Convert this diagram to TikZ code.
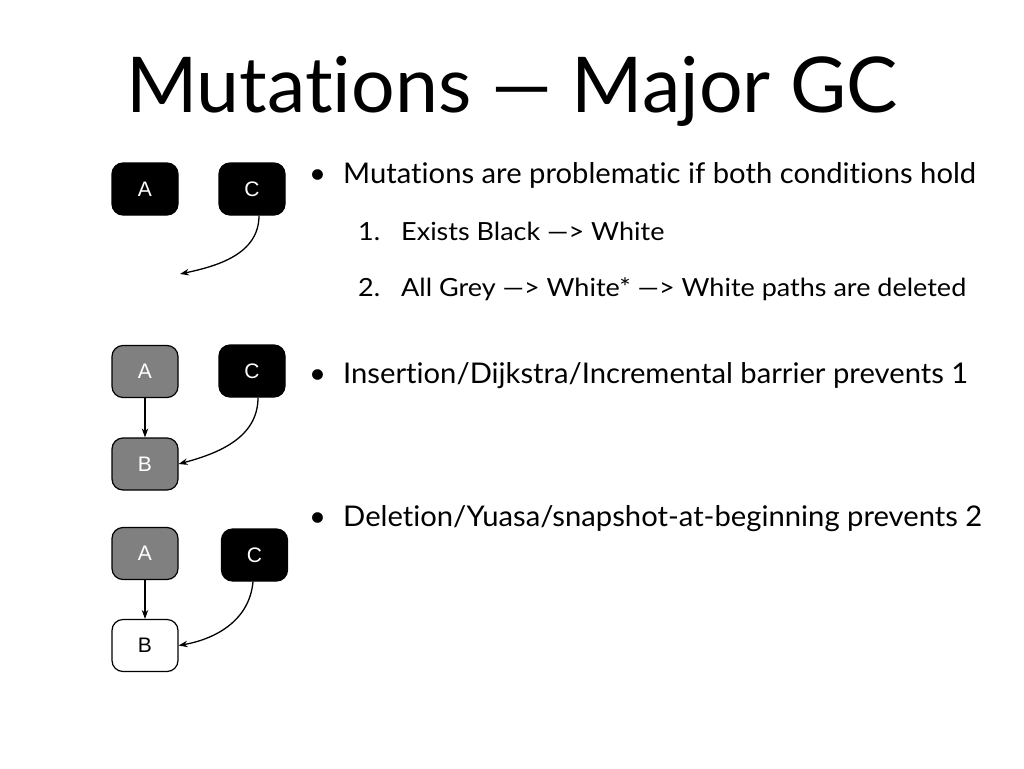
\documentclass[tikz,border=0pt]{standalone}
\usepackage{fontspec}
\setmainfont{Lato}[Ligatures={NoCommon}]
\newfontfamily\bodyfont{Lato}[Ligatures={NoCommon},FakeStretch=1.025]
\newfontfamily\itemfont{Lato}[Ligatures={NoCommon},FakeStretch=1.08]
\newfontfamily\boxfont{Liberation Sans}
\usetikzlibrary{arrows.meta}
\definecolor{greyfill}{HTML}{808080}
\begin{document}
\begin{tikzpicture}[x=1pt,y=-1pt,
  objbox/.style={draw=black,line width=1.2pt,rounded corners=11pt,minimum width=66pt,minimum height=52pt,font=\boxfont\fontsize{21}{21}\selectfont,inner sep=0pt},
  blackbox/.style={objbox,fill=black,text=white},
  greybox/.style={objbox,fill=greyfill,text=white},
  whitebox/.style={objbox,fill=white,text=black},
  ptr/.style={line width=1.3pt,-{Stealth[length=9pt,width=6.5pt]}},
  bodytext/.style={anchor=base west,inner sep=0pt,font=\bodyfont\fontsize{28.5}{28.5}\selectfont},
  itemtext/.style={anchor=base west,inner sep=0pt,font=\itemfont\fontsize{25}{25}\selectfont}]
\useasboundingbox (0,0) rectangle (1024,768);
\fill[white] (0,0) rectangle (1024,768);
\node[anchor=base,inner sep=0pt,font=\fontsize{77}{77}\selectfont] (title) at (512,112) {Mutations — Major GC};
% group 1
\node[blackbox] (a1) at (145,189) {A};
\node[blackbox] (c1) at (252,189) {C};
\coordinate (e1) at (180,274);
\draw[ptr] (c1.south -| 259,0) to[out=-90,in=12] (e1);
% group 2
\node[greybox] (a2) at (145,371.5) {A};
\node[blackbox] (c2) at (252,371) {C};
\node[greybox] (b2) at (145,464) {B};
\draw[ptr] (a2) -- (b2);
\draw[ptr] (c2.south -| 258,0) to[out=-90,in=15] (b2.east);
% group 3
\node[greybox] (a3) at (145,553.5) {A};
\node[blackbox] (c3) at (254.5,555) {C};
\node[whitebox] (b3) at (145,645.5) {B};
\draw[ptr] (a3) -- (b3);
\draw[ptr] (c3.south -| 253,0) to[out=-95,in=10] (b3.east);
% text
\node[bodytext] (bul1) at (309,183) {•};
\node[bodytext] (t1) at (343,183) {Mutations are problematic if both conditions hold};
\node[itemtext] (n1) at (358,240) {1.};
\node[itemtext] (i1) at (401,240) {Exists Black —> White};
\node[itemtext] (n2) at (358,296) {2.};
\node[itemtext] (i2) at (401,296) {All Grey —> White* —> White paths are deleted};
\node[bodytext] (bul2) at (309,383) {•};
\node[bodytext] (t2) at (343,383) {Insertion/Dijkstra/Incremental barrier prevents 1};
\node[bodytext] (bul3) at (309,526) {•};
\node[bodytext] (t3) at (343,526) {Deletion/Yuasa/snapshot-at-beginning prevents 2};
\end{tikzpicture}
\end{document}
